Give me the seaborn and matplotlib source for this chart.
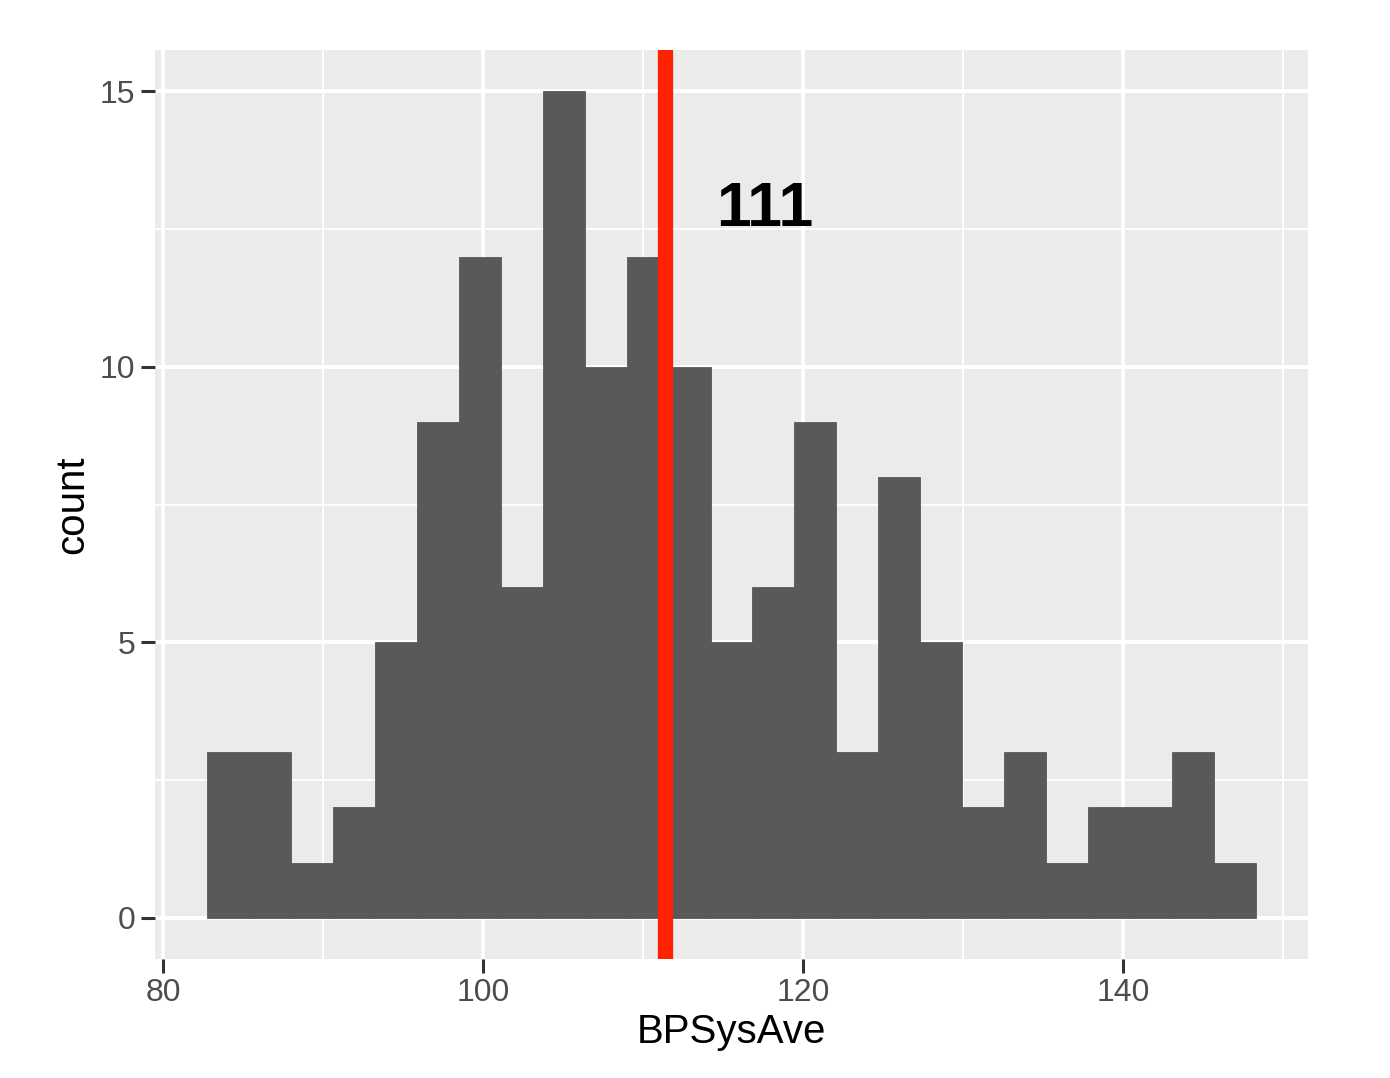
import numpy as np
import pandas as pd
import matplotlib
matplotlib.use("Agg")
import matplotlib.pyplot as plt
import seaborn as sns

# ---- Data -------------------------------------------------------------------
bin_start = 82.75
bin_width = 2.622
counts = [3, 3, 1, 2, 5, 9, 12, 6, 15, 10, 12, 10, 5,
          6, 9, 3, 8, 5, 2, 3, 1, 2, 2, 3, 1]
mean_value = 111.38
label_text = "111"
label_pos = (117.6, 12.85)
x_ticks = [80, 100, 120, 140]
y_ticks = [0, 5, 10, 15]

edges = bin_start + bin_width * np.arange(len(counts) + 1)
df = pd.DataFrame({"BPSysAve": (edges[:-1] + edges[1:]) / 2, "n": counts})

# ---- Style (ggplot2 theme_grey look) ----------------------------------------
sns.set_theme(style="darkgrid", rc={
    "axes.facecolor": "#EBEBEB",
    "grid.color": "white",
    "axes.edgecolor": "#EBEBEB",
})
plt.rcParams["font.family"] = ["Liberation Sans", "DejaVu Sans"]

fig = plt.figure(figsize=(13.9, 10.78), dpi=100)
ax = fig.add_axes([0.1115, 0.1104, 0.8295, 0.8432])

sns.histplot(data=df, x="BPSysAve", weights="n",
             binwidth=bin_width, binrange=(edges[0], edges[-1]), ax=ax,
             color="#595959", edgecolor="#595959", linewidth=0.6,
             alpha=1, zorder=2)

ax.axvline(mean_value, color="#FF2200", linewidth=11, zorder=3)
ax.text(label_pos[0], label_pos[1], label_text, ha="center", va="center",
        fontsize=45, fontweight="bold", color="black", zorder=4)

# Limits with ggplot's 5% expansion
span = edges[-1] - edges[0]
ax.set_xlim(edges[0] - 0.05 * span, edges[-1] + 0.05 * span)
ax.set_ylim(-0.05 * max(counts), max(counts) * 1.05)

ax.set_xticks(x_ticks)
ax.set_yticks(y_ticks)
ax.set_xticks([90, 110, 130, 150], minor=True)
ax.set_yticks([2.5, 7.5, 12.5], minor=True)
ax.grid(which="major", color="white", linewidth=2.8)
ax.grid(which="minor", color="white", linewidth=1.3)
ax.set_axisbelow(True)

ax.tick_params(axis="both", which="major", length=10, width=2.2,
               color="#333333", labelcolor="#4D4D4D", labelsize=23,
               bottom=True, left=True, pad=4)
ax.tick_params(axis="both", which="minor", length=0)
for s in ax.spines.values():
    s.set_visible(False)

ax.set_xlabel("BPSysAve", fontsize=29, color="black", labelpad=3)
ax.set_ylabel("count", fontsize=29, color="black", labelpad=6)

fig.savefig("out.png", dpi=100, facecolor="white")
